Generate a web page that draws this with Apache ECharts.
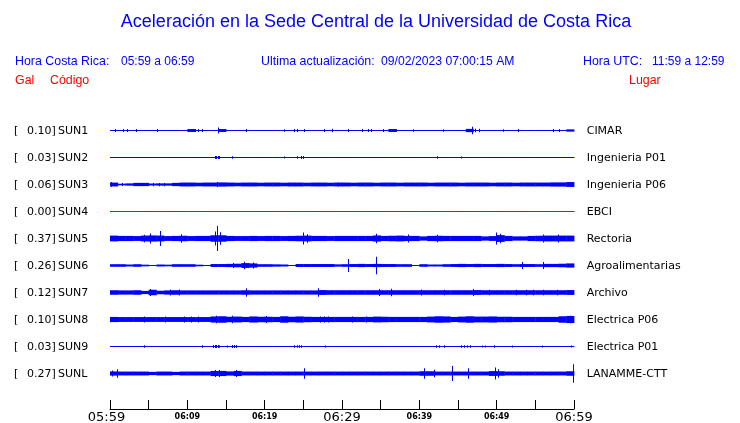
<!DOCTYPE html>
<html>
<head>
<meta charset="utf-8">
<script src="https://cdn.jsdelivr.net/npm/echarts@6/dist/echarts.min.js"></script>
<style>html,body{margin:0;padding:0;background:#fff}#c{width:740px;height:423px}</style>
</head>
<body>
<div id="c"></div>
<script>
// ---------- DATA ----------
const codes  = ['SUN1','SUN2','SUN3','SUN4','SUN5','SUN6','SUN7','SUN8','SUN9','SUNL'];
const places = ['CIMAR','Ingenieria P01','Ingenieria P06','EBCI','Rectoria','Agroalimentarias','Archivo','Electrica P06','Electrica P01','LANAMME-CTT'];
const peakGal = [0.10,0.03,0.06,0.00,0.37,0.26,0.12,0.10,0.03,0.27];
const offline = [false,false,false,true,false,false,false,false,false,false];
// x axis: minutes after 05:59, ticks every 5 min
const tickLabels = ['05:59','','06:09','','06:19','','06:29','','06:39','','06:49','','06:59'];

// per-minute noise envelope (half amplitude, Gal)
const base_SUN1 = [0,0,0,0,0,0,0,0,0,0,
  0.03,0,0,0,0.03,0,0,0,0,0,
  0,0,0,0,0,0,0,0,0,0,
  0,0,0,0,0,0,0.03,0,0,0,
  0,0,0,0,0,0,0.035,0,0,0,
  0,0,0,0,0,0,0,0,0,0.02];
const base_SUN2 = [0,0,0,0,0,0,0,0,0,0,
  0,0,0,0,0,0,0,0,0,0,
  0,0,0,0,0,0,0,0,0,0,
  0,0,0,0,0,0,0,0,0,0,
  0,0,0,0,0,0,0,0,0,0,
  0,0,0,0,0,0,0,0,0,0];
const base_SUN3 = [0.045,0.01,0.02,0.035,0.035,0.015,0.02,0.02,0.035,0.045,
  0.045,0.04,0.045,0.045,0.05,0.045,0.04,0.045,0.045,0.04,
  0.045,0.045,0.04,0.045,0.045,0.04,0.045,0.045,0.04,0.045,
  0.045,0.04,0.045,0.045,0.04,0.045,0.045,0.04,0.045,0.045,
  0.045,0.04,0.045,0.045,0.045,0.04,0.045,0.045,0.045,0.04,
  0.045,0.045,0.04,0.045,0.045,0.045,0.045,0.05,0.05,0.06];
const base_SUN4 = [0,0,0,0,0,0,0,0,0,0,
  0,0,0,0,0,0,0,0,0,0,
  0,0,0,0,0,0,0,0,0,0,
  0,0,0,0,0,0,0,0,0,0,
  0,0,0,0,0,0,0,0,0,0,
  0,0,0,0,0,0,0,0,0,0];
const base_SUN5 = [0.075,0.065,0.065,0.06,0.075,0.08,0.075,0.06,0.065,0.07,
  0.06,0.065,0.065,0.085,0.085,0.065,0.06,0.06,0.065,0.06,
  0.065,0.065,0.06,0.065,0.07,0.075,0.065,0.065,0.06,0.065,
  0.065,0.065,0.065,0.065,0.08,0.065,0.07,0.075,0.065,0.065,
  0.05,0.065,0.07,0.065,0.065,0.065,0.065,0.065,0.05,0.06,
  0.09,0.065,0.05,0.05,0.065,0.07,0.075,0.075,0.075,0.075];
const base_SUN6 = [0.025,0.025,0.015,0.025,0.01,0,0.015,0.01,0.025,0.025,
  0.025,0.01,0,0.03,0.03,0.035,0.04,0.06,0.05,0.025,
  0.025,0.02,0.015,0,0.03,0.03,0.03,0.03,0.03,0.02,
  0.025,0.03,0.035,0.03,0.035,0.03,0.03,0.025,0.025,0,
  0.025,0.015,0.015,0.025,0.03,0.035,0.03,0.035,0.03,0.03,
  0.035,0.03,0.025,0.03,0.03,0.025,0.035,0.035,0.04,0.05];
const base_SUN7 = [0.055,0.05,0.05,0.055,0.035,0.07,0.04,0.05,0.055,0.05,
  0.05,0.05,0.05,0.05,0.05,0.05,0.05,0.055,0.05,0.05,
  0.05,0.05,0.05,0.05,0.05,0.05,0.05,0.06,0.055,0.055,
  0.055,0.055,0.055,0.055,0.055,0.055,0.055,0.055,0.055,0.055,
  0.055,0.055,0.055,0.055,0.055,0.055,0.055,0.06,0.055,0.055,
  0.055,0.055,0.055,0.055,0.055,0.055,0.055,0.055,0.055,0.06];
const base_SUN8 = [0.065,0.06,0.06,0.06,0.06,0.06,0.06,0.06,0.06,0.06,
  0.06,0.06,0.06,0.08,0.085,0.07,0.075,0.065,0.08,0.07,
  0.07,0.065,0.085,0.07,0.08,0.07,0.065,0.065,0.065,0.065,
  0.065,0.065,0.065,0.065,0.075,0.07,0.065,0.065,0.065,0.065,
  0.065,0.075,0.085,0.08,0.065,0.075,0.085,0.075,0.075,0.08,
  0.07,0.07,0.065,0.065,0.065,0.065,0.065,0.065,0.085,0.095];
const base_SUN9 = [0,0,0,0,0,0,0,0,0,0,
  0,0,0,0,0,0,0,0,0,0,
  0,0,0,0,0,0,0,0,0,0,
  0,0,0,0,0,0,0,0,0,0,
  0,0,0,0,0,0,0,0,0,0,
  0,0,0,0,0,0,0,0,0,0];
const base_SUNL = [0.05,0.045,0.045,0.045,0.045,0.035,0.045,0.045,0.035,0.045,
  0.045,0.045,0.045,0.065,0.065,0.05,0.065,0.045,0.045,0.045,
  0.045,0.045,0.045,0.045,0.045,0.045,0.045,0.045,0.045,0.045,
  0.045,0.045,0.045,0.045,0.045,0.045,0.045,0.045,0.045,0.045,
  0.055,0.055,0.045,0.045,0.045,0.045,0.045,0.045,0.045,0.06,
  0.055,0.045,0.045,0.045,0.045,0.045,0.045,0.045,0.045,0.055];

// isolated peaks: [minute, half amplitude in Gal]
const peaks_SUN1 = [[0.65,0.03],[1.8,0.03],[2.3,0.03],[3.4,0.03],[6.1,0.03],[11.0,0.03],[11.4,0.03],[11.9,0.03],
  [14.0,0.08],[17.7,0.03],[22.6,0.02],[23.8,0.03],[24.3,0.03],[25.1,0.03],[27.8,0.03],[28.8,0.04],[30.9,0.03],
  [32.7,0.03],[33.4,0.03],[33.8,0.03],[35.4,0.03],[37.1,0.02],[39.3,0.02],[43.1,0.02],[46.9,0.10],[47.3,0.04],
  [47.8,0.04],[50.9,0.02],[52.8,0.03],[57.4,0.03],[58.1,0.03]];
const peaks_SUN2 = [[13.6,0.03],[13.8,0.03],[14.0,0.03],[14.2,0.03],[15.9,0.02],[22.6,0.015],[24.2,0.02],
  [24.8,0.03],[25.0,0.03],[42.3,0.02],[45.5,0.015]];
const peaks_SUN3 = [[0.2,0.06],[1.6,0.03],[5.6,0.035],[6.4,0.035],[7.1,0.035],[13.9,0.06],[29.5,0.05],[59.8,0.06]];
const peaks_SUN4 = [];
const peaks_SUN5 = [[13.9,0.37],[13.6,0.2],[14.3,0.18],[6.5,0.22],[5.2,0.14],[4.4,0.1],[9.3,0.12],[25.0,0.17],
  [25.6,0.12],[34.5,0.13],[38.6,0.11],[42.4,0.1],[50.0,0.17],[50.5,0.13],[56.0,0.11],[58.0,0.11]];
const peaks_SUN6 = [[30.9,0.19],[34.4,0.26],[17.4,0.1],[18.5,0.08],[16.0,0.06],[53.3,0.09],[56.0,0.09]];
const peaks_SUN7 = [[17.7,0.12],[27.0,0.12],[5.2,0.09],[7.8,0.08],[9.0,0.08],[34.9,0.09],[36.4,0.1],[40.3,0.08],
  [43.3,0.07],[47.0,0.09],[49.1,0.07],[52.6,0.07],[53.9,0.07],[54.7,0.07],[56.0,0.07],[57.9,0.07]];
const peaks_SUN8 = [[4.4,0.08],[7.2,0.08],[9.6,0.08],[10.5,0.08],[11.4,0.08],[13.8,0.1],[15.9,0.1],[20.3,0.09],
  [27.2,0.08],[27.8,0.08],[28.3,0.08],[31.4,0.08],[33.2,0.08],[59.6,0.1]];
const peaks_SUN9 = [[4.4,0.02],[11.9,0.02],[13.4,0.03],[13.6,0.03],[13.8,0.03],[14.0,0.03],[14.2,0.02],[15.2,0.015],
  [15.9,0.03],[16.1,0.03],[16.3,0.03],[23.9,0.02],[24.2,0.02],[24.5,0.02],[24.8,0.02],[27.9,0.015],[42.2,0.02],
  [42.6,0.02],[43.3,0.02],[45.5,0.02],[45.8,0.02],[46.2,0.02],[46.6,0.02],[48.2,0.015],[48.6,0.015],[49.7,0.02],
  [52.1,0.015],[55.9,0.015],[59.7,0.015]];
const peaks_SUNL = [[0.3,0.08],[1.0,0.12],[13.6,0.09],[14.2,0.09],[16.3,0.09],[25.2,0.15],[40.7,0.15],[42.0,0.1],
  [44.3,0.22],[46.3,0.15],[49.9,0.17],[50.3,0.12],[59.9,0.27]];

const bases = [base_SUN1,base_SUN2,base_SUN3,base_SUN4,base_SUN5,base_SUN6,base_SUN7,base_SUN8,base_SUN9,base_SUNL];
const peaks = [peaks_SUN1,peaks_SUN2,peaks_SUN3,peaks_SUN4,peaks_SUN5,peaks_SUN6,peaks_SUN7,peaks_SUN8,peaks_SUN9,peaks_SUNL];

// ---------- CHART ----------
const BLUE = '#0000ff', RED = '#ff0000';
const FONT_T = '"Liberation Sans", Arial, sans-serif';
const FONT_D = '"DejaVu Sans", sans-serif';
const chart = echarts.init(document.getElementById('c'), null, {renderer: 'canvas'});
const grids = [], xAxes = [], yAxes = [], series = [];
const ROW0 = 117, ROWH = 27;

codes.forEach((code, k) => {
  const color = offline[k] ? RED : BLUE;
  grids.push({left: 110, right: 166, top: ROW0 + ROWH * k, height: ROWH, outerBoundsMode: 'none', containLabel: false});
  xAxes.push({gridIndex: k, type: 'value', min: 0, max: 60, show: false});
  const common = {gridIndex: k, type: 'value', min: -0.42, max: 0.42, interval: 0.42,
    axisLine: {show: false}, axisTick: {show: false}, splitLine: {show: false}};
  const st = {fontFamily: FONT_D, fontSize: 11, color: '#000'};
  yAxes.push(Object.assign({}, common, {position: 'left', axisLabel: {
    margin: 96, align: 'left', color: '#000', fontFamily: FONT_D, fontSize: 11, padding: [2, 0, 0, 0],
    formatter: v => Math.abs(v) < 1e-6 ? '{a|[}{b|' + peakGal[k].toFixed(2) + ']}{c|' + code + '}' : '',
    rich: {a: Object.assign({width: 13}, st), b: Object.assign({width: 31}, st), c: st}
  }}));
  yAxes.push(Object.assign({}, common, {position: 'right', axisLabel: {
    margin: 12.7, color: '#000', fontFamily: FONT_D, fontSize: 11, padding: [2, 0, 0, 0],
    formatter: v => Math.abs(v) < 1e-6 ? '{c|' + places[k] + '}' : '',
    rich: {c: st}
  }}));
  series.push({
    type: 'custom', xAxisIndex: k, yAxisIndex: 2 * k, clip: false, silent: true, animation: false,
    data: bases[k].map((a, m) => [m, a]),
    renderItem: (params, api) => {
      const m = api.value(0), a = api.value(1);
      const p0 = api.coord([m, 0]), p1 = api.coord([m + 1, 0]);
      const half = api.size([0, a])[1];
      return {type: 'rect', shape: {x: p0[0], y: p0[1] - 0.5 - half, width: p1[0] - p0[0] + 0.4, height: 1 + 2 * half},
              style: {fill: color}};
    }
  });
  series.push({
    type: 'custom', xAxisIndex: k, yAxisIndex: 2 * k, clip: false, silent: true, animation: false,
    data: peaks[k],
    renderItem: (params, api) => {
      const m = api.value(0), a = api.value(1);
      const p = api.coord([m, 0]);
      const half = api.size([0, a])[1];
      return {type: 'rect', shape: {x: Math.floor(p[0]), y: p[1] - 0.5 - half, width: 1, height: 1 + 2 * half},
              style: {fill: color}};
    }
  });
});

// time axis
const AX = codes.length;
grids.push({left: 110, right: 166, top: 400, height: 9, outerBoundsMode: 'none', containLabel: false});
xAxes.push({gridIndex: AX, type: 'value', min: 0, max: 60, interval: 5, position: 'bottom',
  axisLine: {show: true, lineStyle: {color: '#000', width: 1}},
  axisTick: {show: true, inside: true, length: 9, lineStyle: {color: '#000', width: 1}},
  splitLine: {show: false},
  axisLabel: {margin: 1, showMinLabel: true, showMaxLabel: true, hideOverlap: false,
    formatter: v => {
      const i = Math.round(v / 5);
      const t = tickLabels[i];
      if (!t) return '';
      if (i === 0) return '{f|' + t + '}';
      return (i % 6 === 0) ? '{b|' + t + '}' : '{s|' + t + '}';
    },
    rich: {b: {fontFamily: FONT_D, fontSize: 13, color: '#000', lineHeight: 15},
           f: {fontFamily: FONT_D, fontSize: 13, color: '#000', lineHeight: 15, padding: [0, 7, 0, 0]},
           s: {fontFamily: FONT_D, fontSize: 8, fontWeight: 'bold', color: '#000', lineHeight: 13}}
  }});
yAxes.push({gridIndex: AX, type: 'value', show: false});

function txt(x, y, s, color, size, align) {
  return {type: 'text', x: x, y: y, silent: true,
    style: {text: s, fill: color, font: size + 'px ' + FONT_T, textAlign: align || 'left', textVerticalAlign: 'middle'}};
}

chart.setOption({
  animation: false,
  backgroundColor: '#fff',
  grid: grids, xAxis: xAxes, yAxis: yAxes, series: series,
  graphic: [
    txt(376, 22, 'Aceleración en la Sede Central de la Universidad de Costa Rica', BLUE, 18, 'center'),
    txt(15, 61.5, 'Hora Costa Rica:', BLUE, 12.4),
    txt(121, 61.5, '05:59 a 06:59', BLUE, 12),
    txt(261, 61.5, 'Ultima actualización:', BLUE, 12.4),
    txt(381, 61.5, '09/02/2023 07:00:15 AM', BLUE, 12.2),
    txt(583, 61.5, 'Hora UTC:', BLUE, 12.4),
    txt(652, 61.5, '11:59 a 12:59', BLUE, 12),
    txt(15, 80.5, 'Gal', RED, 12.4),
    txt(50, 80.5, 'Código', RED, 12.4),
    txt(629, 80.5, 'Lugar', RED, 12.4)
  ]
});
</script>
</body>
</html>
